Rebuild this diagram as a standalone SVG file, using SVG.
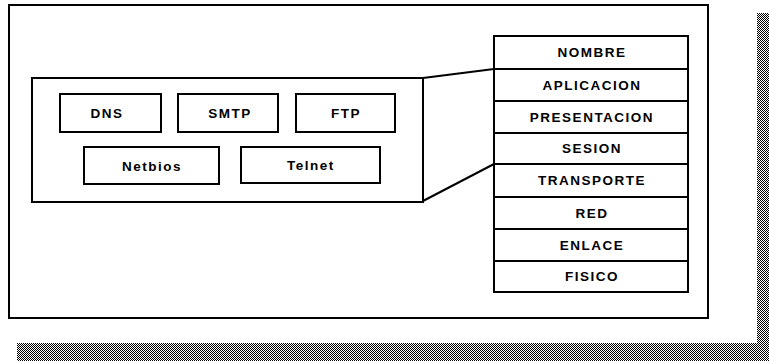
<svg xmlns="http://www.w3.org/2000/svg" width="769" height="361" viewBox="0 0 769 361">
<style>
.box{fill:#fff;stroke:#000;stroke-width:2}
.row{fill:#fff;stroke:#000;stroke-width:2}
.t{font-family:"Liberation Sans",Arial,sans-serif;font-weight:bold;font-size:13.5px;letter-spacing:1.5px;fill:#000;text-anchor:middle}
.conn{fill:none;stroke:#000;stroke-width:2}
</style>
<defs>
<pattern id="dith" width="2" height="2" patternUnits="userSpaceOnUse">
<rect width="2" height="2" fill="#fff"/>
<rect x="0" y="0" width="1" height="1" fill="#000"/>
<rect x="1" y="1" width="1" height="1" fill="#000"/>
</pattern>
</defs>
<rect width="769" height="361" fill="#fff"/>
<g id="shadow">
<rect x="757" y="13" width="12" height="348" fill="url(#dith)"/>
<rect x="17" y="343" width="752" height="18" fill="url(#dith)"/>
</g>
<g id="frame">
<rect x="9" y="5" width="699" height="313" fill="#fff" stroke="#000" stroke-width="2"/>
</g>
<g id="protocolos">
<rect class="box" x="32" y="78" width="391" height="124"/>
</g>
<g id="dns"><rect class="box" x="60" y="94" width="101" height="38"/><text class="t" x="107" y="118">DNS</text></g>
<g id="smtp"><rect class="box" x="178" y="94" width="100" height="38"/><text class="t" x="230" y="118">SMTP</text></g>
<g id="ftp"><rect class="box" x="296" y="94" width="99" height="38"/><text class="t" x="346" y="118">FTP</text></g>
<g id="netbios"><rect class="box" x="84" y="147" width="135" height="37"/><text class="t" x="152" y="171">Netbios</text></g>
<g id="telnet"><rect class="box" x="241" y="147" width="139" height="36"/><text class="t" x="311" y="170">Telnet</text></g>
<g id="connectors">
<path class="conn" d="M423 78 L494 69"/>
<path class="conn" d="M423 201 L494 164"/>
</g>
<g id="nombre"><rect class="row" x="494" y="36" width="194" height="33"/><text class="t" x="592" y="57">NOMBRE</text></g>
<g id="aplicacion"><rect class="row" x="494" y="69" width="194" height="32"/><text class="t" x="592" y="90">APLICACION</text></g>
<g id="presentacion"><rect class="row" x="494" y="101" width="194" height="32"/><text class="t" x="592" y="122">PRESENTACION</text></g>
<g id="sesion"><rect class="row" x="494" y="133" width="194" height="31"/><text class="t" x="592" y="153">SESION</text></g>
<g id="transporte"><rect class="row" x="494" y="164" width="194" height="33"/><text class="t" x="592" y="185">TRANSPORTE</text></g>
<g id="red"><rect class="row" x="494" y="197" width="194" height="32"/><text class="t" x="592" y="218">RED</text></g>
<g id="enlace"><rect class="row" x="494" y="229" width="194" height="32"/><text class="t" x="592" y="250">ENLACE</text></g>
<g id="fisico"><rect class="row" x="494" y="261" width="194" height="31"/><text class="t" x="592" y="281">FISICO</text></g>
</svg>
